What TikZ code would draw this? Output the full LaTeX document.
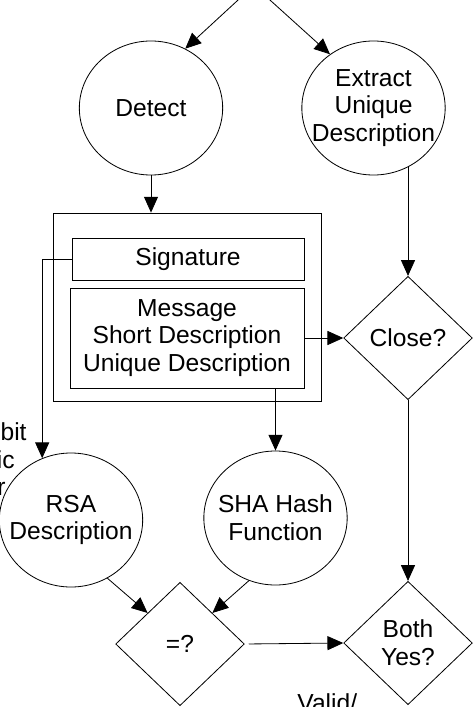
\documentclass[tikz,border=0pt]{standalone}
\usepackage{fontspec}
\setmainfont{Liberation Sans}
\usepackage{tikz}
\usetikzlibrary{calc, positioning, shapes.geometric, arrows.meta}

\begin{document}
\begin{tikzpicture}[x=0.03cm, y=-0.03cm, line width=0.7pt,
    font=\fontsize{21pt}{23.8pt}\selectfont,
    circ/.style={draw, ellipse, inner xsep=-1cm, inner ysep=0pt, minimum width=4.3cm, minimum height=4.02cm, align=center},
    losango/.style={draw, diamond, inner sep=0pt, aspect=1.04, minimum width=3.86cm, minimum height=3.7cm, align=center},
    caixa/.style={draw, rectangle, inner sep=0pt, align=center},
    seta/.style={-{Triangle[length=13.5pt,width=12pt]}}]
    \useasboundingbox (0,0) rectangle (474,707);
    \clip (0,0) rectangle (474,707);
    % Parte de cima:
    \coordinate (srcl) at (243.5,-5);
    \coordinate (srcr) at (264.4,-5);
    \node[circ] (detect) at (151,108) {Detect};
    \node[circ] (extract) at (373.5,108) {Extract\\Unique\\Description};
    \draw[seta] (srcl) -- (detect.60);
    \draw[seta] (srcr) -- (extract.129);
    % Pacote:
    \node[caixa, minimum width=8.04cm, minimum height=5.64cm] (packet) at (187,307) {};
    \node[caixa, minimum width=6.96cm, minimum height=1.26cm] (sig) at (188,259) {Signature};
    \node[caixa, minimum width=7.02cm, minimum height=3cm] (msg) at (187,338) {Message\\Short Description\\Unique Description};
    \draw[seta] (detect.south) -- (detect.south |- packet.north);
    % Lado direito:
    \node[losango] (close) at (408,338) {Close?};
    \node[losango] (both) at (408,643) {Both\\Yes?};
    \draw[seta] (close.north |- extract.-60) -- (close.north);
    \draw[seta] (msg.east) -- (close.west);
    \draw[seta] (close.south) -- (both.north);
    % Parte de baixo:
    \node[circ] (rsa) at (71,520) {RSA\\Description};
    \node[circ] (sha) at (275.5,518) {SHA Hash\\Function};
    \node[losango] (eq) at (180,644) {=?};
    \draw[seta] (sig.west) -| (rsa.115);
    \draw[seta] (msg.south -| sha.north) -- (sha.north);
    \draw[seta] (rsa.-58) -- (eq.north west);
    \draw[seta] (sha.-113) -- (eq.north east);
    \draw[seta, shorten <=1.2mm] (eq.east) -- (both.west);
    % Textos cortados:
    \node[anchor=base east, inner sep=0pt] (t1) at (27,440) {bit};
    \node[anchor=base east, inner sep=0pt] (t2) at (15,468) {ic};
    \node[anchor=base east, inner sep=0pt] (t3) at (6,495) {r};
    \node[anchor=base west, inner sep=0pt] (valid) at (297,711) {Valid/};
\end{tikzpicture}
\end{document}
